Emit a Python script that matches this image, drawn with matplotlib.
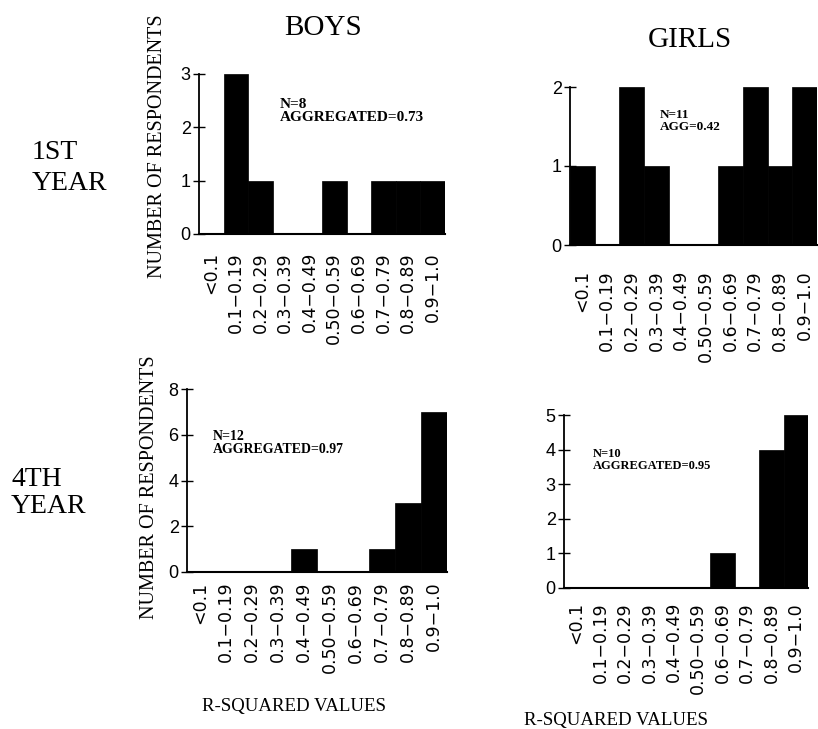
import numpy as np
import matplotlib
matplotlib.use('Agg')
import matplotlib.pyplot as plt

# r-squared bins shared by all four panels
bins = ['<0.1', '0.1\u22120.19', '0.2\u22120.29', '0.3\u22120.39', '0.4\u22120.49',
        '0.50\u22120.59', '0.6\u22120.69', '0.7\u22120.79', '0.8\u22120.89', '0.9\u22121.0']

boys_1st = [0, 3, 1, 0, 0, 1, 0, 1, 1, 1]
girls_1st = [1, 0, 2, 1, 0, 0, 1, 2, 1, 2]
boys_4th = [0, 0, 0, 0, 1, 0, 0, 1, 3, 7]
girls_4th = [0, 0, 0, 0, 0, 0, 1, 0, 4, 5]

notes = ['N=8\nAGGREGATED=0.73', 'N=11\nAGG=0.42',
         'N=12\nAGGREGATED=0.97', 'N=10\nAGGREGATED=0.95']

W, H = 818, 729
fig = plt.figure(figsize=(W / 100, H / 100), dpi=100)
serif = 'Liberation Serif'
sans = 'Liberation Sans'


def px_axes(left, top, right, bottom):
    return fig.add_axes([left / W, 1 - bottom / H, (right - left) / W, (bottom - top) / H])


def px_text(x, y, s, **kw):
    return fig.text(x / W, 1 - y / H, s, **kw)


def draw_panel(ax, counts, ymax, ystep, lab_pad):
    x = np.arange(len(bins))
    ax.bar(x, counts, width=1.0, align='edge', color='black', edgecolor='black', lw=0.5)
    ax.set_xlim(0, len(bins))
    ax.set_ylim(0, ymax)
    ax.set_yticks(np.arange(0, ymax + 0.1, ystep))
    ax.set_xticks(x + 0.5)
    ax.set_xticklabels(bins, rotation=90, family='DejaVu Sans', fontsize=12.5)
    ax.tick_params(axis='x', length=0, pad=lab_pad)
    ax.tick_params(axis='y', direction='inout', length=8, width=1.0, pad=2, labelsize=13)
    for lab in ax.get_yticklabels():
        lab.set_family(sans)
    ax.spines['top'].set_visible(False)
    ax.spines['right'].set_visible(False)
    ax.spines['left'].set_linewidth(1.3)
    ax.spines['bottom'].set_linewidth(1.5)
    ax.spines['left'].set_bounds(0, ymax)


ax1 = px_axes(199, 74, 445, 234)
draw_panel(ax1, boys_1st, 3, 1, lab_pad=13)

ax2 = px_axes(570, 87, 817, 245)
draw_panel(ax2, girls_1st, 2, 1, lab_pad=18)

ax3 = px_axes(187, 389, 447, 572)
draw_panel(ax3, boys_4th, 8, 2, lab_pad=7)

ax4 = px_axes(564, 415, 808, 588)
draw_panel(ax4, girls_4th, 5, 1, lab_pad=10)

# N / aggregated notes
px_text(280, 111, notes[0], family=serif, fontsize=11, fontweight='bold',
        va='center', ha='left', linespacing=1.05)
px_text(660, 121, notes[1], family=serif, fontsize=9.5, fontweight='bold',
        va='center', ha='left', linespacing=1.05)
px_text(213, 443, notes[2], family=serif, fontsize=10, fontweight='bold',
        va='center', ha='left', linespacing=1.05)
px_text(593, 460, notes[3], family=serif, fontsize=9, fontweight='bold',
        va='center', ha='left', linespacing=1.05)

# column and row headings
px_text(323, 28, 'BOYS', family=serif, fontsize=21, ha='center', va='center')
px_text(690, 40, 'GIRLS', family=serif, fontsize=21, ha='center', va='center')
px_text(32, 168, '1ST\nYEAR', family=serif, fontsize=20, ha='left', va='center',
        linespacing=1.3)
px_text(11, 493, '4TH\nYEAR', family=serif, fontsize=20, ha='left', va='center',
        linespacing=1.15)

px_text(158, 146, 'NUMBER OF RESPONDENTS', family=serif, fontsize=14.5,
        rotation=90, ha='center', va='center')
px_text(150, 487, 'NUMBER OF RESPONDENTS', family=serif, fontsize=14.5,
        rotation=90, ha='center', va='center')

px_text(294, 707, 'R-SQUARED VALUES', family=serif, fontsize=13.6,
        ha='center', va='center')
px_text(616, 720, 'R-SQUARED VALUES', family=serif, fontsize=13.6,
        ha='center', va='center')

fig.savefig('out.png', dpi=100)
